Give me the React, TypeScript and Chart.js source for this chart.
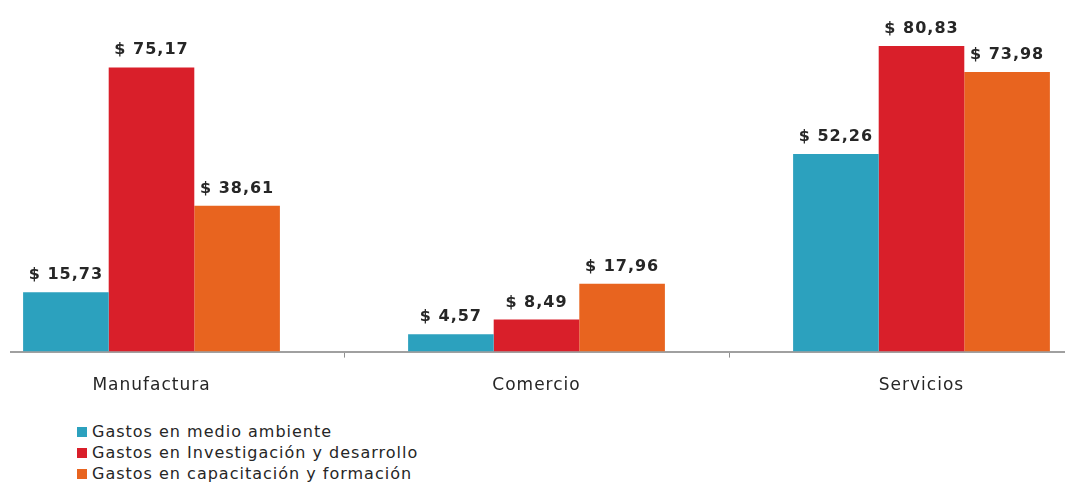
import React, { useEffect, useRef } from "react";
import { Chart, registerables } from "chart.js";

Chart.register(...registerables);

const categories = ["Manufactura", "Comercio", "Servicios"];
const seriesNames = [
  "Gastos en medio ambiente",
  "Gastos en Investigación y desarrollo",
  "Gastos en capacitación y formación",
];
const medioAmbiente = [15.73, 4.57, 52.26];
const investigacion = [75.17, 8.49, 80.83];
const capacitacion = [38.61, 17.96, 73.98];
const seriesColors = ["#2CA1BE", "#D91F2A", "#E8641F"];

const FONT = "'DejaVu Sans', sans-serif";

const fmt = (v: number) => "$ " + v.toFixed(2).replace(".", ",");

const spacing = {
  id: "spacing",
  beforeDraw(chart: any) {
    chart.ctx.letterSpacing = "1px";
  },
};

const valueLabels = {
  id: "valueLabels",
  afterDatasetsDraw(chart: any) {
    const ctx = chart.ctx;
    ctx.save();
    ctx.letterSpacing = "1px";
    ctx.font = `bold 16px ${FONT}`;
    ctx.fillStyle = "#262626";
    ctx.textAlign = "center";
    ctx.textBaseline = "alphabetic";
    chart.data.datasets.forEach((ds: any, i: number) => {
      const meta = chart.getDatasetMeta(i);
      meta.data.forEach((el: any, j: number) => {
        ctx.fillText(fmt(ds.data[j]), el.x, el.y - 13);
      });
    });
    ctx.restore();
  },
};

export default function App() {
  const ref = useRef<HTMLCanvasElement>(null);
  useEffect(() => {
    if (!ref.current) return;
    const chart = new Chart(ref.current, {
      type: "bar",
      data: {
        labels: categories,
        datasets: [medioAmbiente, investigacion, capacitacion].map((d, i) => ({
          label: seriesNames[i],
          data: d,
          backgroundColor: seriesColors[i],
          borderWidth: 0,
          categoryPercentage: 0.667,
          barPercentage: 1.0,
        })),
      },
      options: {
        animation: false,
        responsive: false,
        maintainAspectRatio: false,
        layout: { padding: { top: 0, bottom: 4, left: 0, right: 0 } },
        plugins: {
          legend: { display: false },
          tooltip: { enabled: false },
        },
        scales: {
          x: {
            offset: true,
            grid: {
              display: true,
              drawOnChartArea: false,
              drawTicks: true,
              tickLength: 6,
              color: "#909090",
              offset: true,
            },
            border: { display: true, color: "#A0A0A0", width: 2 },
            ticks: {
              padding: 18,
              color: "#262626",
              font: { family: FONT, size: 17 },
            },
          },
          y: {
            display: false,
            min: 0,
            max: 93,
          },
        },
      },
      plugins: [spacing, valueLabels],
    });
    return () => chart.destroy();
  }, []);

  return (
    <div
      style={{
        position: "fixed",
        left: 0,
        top: 0,
        width: 1065,
        height: 483,
        overflow: "hidden",
        background: "#fff",
        fontFamily: FONT,
      }}
    >
      <canvas
        ref={ref}
        width={1155}
        height={418}
        style={{
          position: "absolute",
          left: -41,
          top: 0,
          width: 1155,
          height: 418,
          clipPath: "inset(0 0 0 51px)",
        }}
      />
      <div style={{ position: "absolute", left: 77, top: 421 }}>
        {seriesNames.map((n, i) => (
          <div
            key={n}
            style={{
              display: "flex",
              alignItems: "center",
              height: 21,
              fontSize: 16,
              letterSpacing: 1,
              color: "#262626",
              whiteSpace: "nowrap",
            }}
          >
            <span
              style={{
                display: "inline-block",
                width: 10,
                height: 10,
                background: seriesColors[i],
                marginRight: 5,
              }}
            />
            {n}
          </div>
        ))}
      </div>
    </div>
  );
}
